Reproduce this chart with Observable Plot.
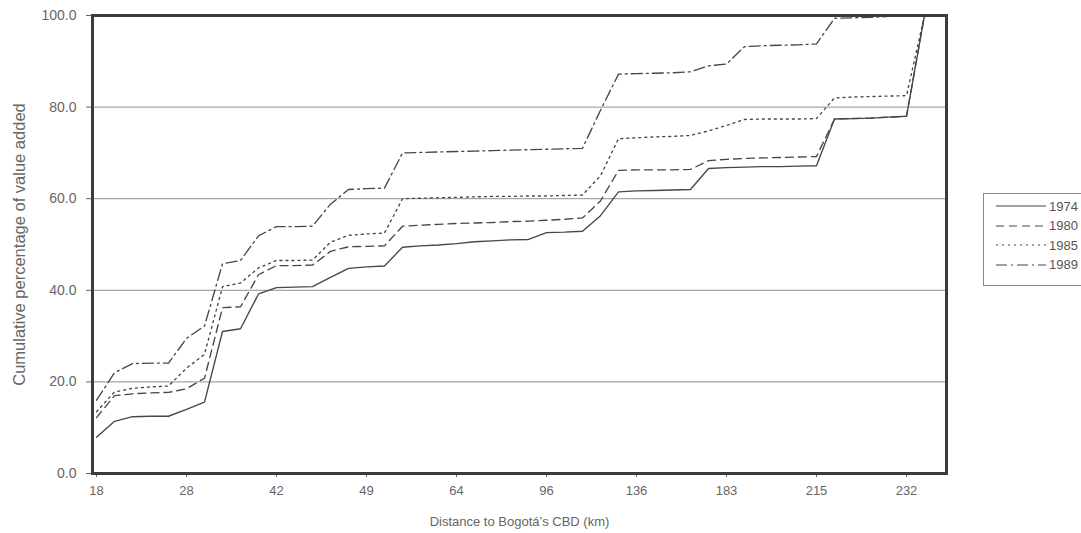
<!DOCTYPE html>
<html>
<head>
<meta charset="utf-8">
<script src="https://cdn.jsdelivr.net/npm/d3@7"></script>
<script src="https://cdn.jsdelivr.net/npm/@observablehq/plot@0.6"></script>
<style>
  html, body { margin: 0; padding: 0; background: #fff; overflow: hidden; }
  #wrap { position: relative; width: 1081px; height: 533px; font-family: "Liberation Sans", Arial, sans-serif; }
  #legend { position: absolute; left: 983px; top: 193px; width: 120px; height: 93px;
            border: 1px solid #888; box-sizing: border-box; background: #fff; }
  #legend .row { position: absolute; left: 11px; height: 16px; display: flex; align-items: center;
                 font-size: 13px; color: #555; }
  #legend svg { display: block; margin-right: 2px; }
</style>
</head>
<body>
<div id="wrap">
  <div id="chart"></div>
  <div id="legend"></div>
</div>
<script>
// Municipalities ordered by distance to the CBD; every fifth one carries a distance label.
const municipalityCount = 48;
const labelledIndex = [0, 5, 10, 15, 20, 25, 30, 35, 40, 45];
const distanceLabels = [18, 28, 42, 49, 64, 96, 136, 183, 215, 232];

const years = ["1974", "1980", "1985", "1989"];

// Cumulative percentage of value added, one value per municipality.
const cum1974 = [7.9, 11.4, 12.4, 12.5, 12.5, 14.0, 15.6, 31.0, 31.6, 39.2,
                 40.6, 40.7, 40.8, 42.8, 44.8, 45.1, 45.3, 49.4, 49.7, 49.9,
                 50.2, 50.6, 50.8, 51.0, 51.1, 52.6, 52.7, 52.9, 56.3, 61.5,
                 61.7, 61.8, 61.9, 62.0, 66.6, 66.8, 66.9, 67.0, 67.0, 67.1,
                 67.2, 77.4, 77.5, 77.6, 77.8, 78.0, 100, 100];
const cum1980 = [12.2, 17.0, 17.4, 17.6, 17.7, 18.5, 20.8, 36.2, 36.4, 43.4,
                 45.4, 45.4, 45.5, 48.5, 49.5, 49.6, 49.7, 54.0, 54.2, 54.4,
                 54.6, 54.7, 54.8, 55.0, 55.1, 55.3, 55.5, 55.8, 59.5, 66.2,
                 66.3, 66.3, 66.3, 66.4, 68.3, 68.6, 68.8, 68.9, 69.0, 69.1,
                 69.2, 77.4, 77.5, 77.6, 77.8, 78.0, 100, 100];
const cum1985 = [13.5, 17.8, 18.6, 18.9, 19.1, 23.0, 26.0, 40.8, 41.6, 44.9,
                 46.5, 46.5, 46.6, 50.5, 52.0, 52.3, 52.5, 60.0, 60.1, 60.2,
                 60.3, 60.4, 60.5, 60.5, 60.6, 60.6, 60.7, 60.8, 65.0, 73.1,
                 73.3, 73.5, 73.6, 73.8, 74.8, 76.0, 77.3, 77.4, 77.4, 77.4,
                 77.5, 82.0, 82.2, 82.3, 82.4, 82.5, 100, 100];
const cum1989 = [16.0, 22.0, 24.0, 24.1, 24.1, 29.5, 32.2, 45.8, 46.5, 51.9,
                 53.9, 53.9, 54.0, 58.8, 62.0, 62.2, 62.3, 70.0, 70.1, 70.2,
                 70.3, 70.4, 70.5, 70.6, 70.7, 70.8, 70.9, 71.0, 79.3, 87.2,
                 87.3, 87.4, 87.5, 87.7, 89.0, 89.4, 93.2, 93.4, 93.5, 93.6,
                 93.8, 99.4, 99.5, 99.6, 99.8, 100, 100, 100];

const seriesValues = [cum1974, cum1980, cum1985, cum1989];
const dashes = ["none", "8,5", "2,4", "11,4,2,4"];

const ink = "#474747";
const rowsFor = (vals, year) => vals.map((v, i) => ({ i, v, year }));

const lineMarks = years.map((year, k) =>
  Plot.line(rowsFor(seriesValues[k], year), {
    x: "i", y: "v",
    stroke: ink, strokeWidth: 1.35,
    strokeDasharray: dashes[k],
    strokeLinejoin: "round"
  })
);

const chart = Plot.plot({
  width: 1081,
  height: 533,
  marginLeft: 92,
  marginRight: 135,
  marginTop: 15,
  marginBottom: 60,
  style: { fontFamily: "Liberation Sans, Arial, sans-serif", fontSize: "13px", color: "#666", background: "#fff" },
  x: { type: "point", domain: d3.range(municipalityCount), padding: 0 },
  y: { domain: [0, 100] },
  marks: [
    Plot.gridY([20, 40, 60, 80], { stroke: "#909090", strokeOpacity: 1, strokeWidth: 1 }),
    Plot.axisY({
      ticks: [0, 20, 40, 60, 80, 100],
      tickFormat: d => d.toFixed(1),
      tickSize: 6, tickPadding: 10,
      fontSize: 14,
      label: null
    }),
    // rotated y-axis title, centred on the plot height
    Plot.text(["Cumulative percentage of value added"], {
      frameAnchor: "left", rotate: -90, dx: -73,
      fontSize: 16.5, fill: "#666", textAnchor: "middle"
    }),
    Plot.axisX({
      ticks: labelledIndex,
      tickFormat: i => distanceLabels[labelledIndex.indexOf(i)],
      tickSize: 4, tickPadding: 8,
      fontSize: 13,
      label: "Distance to Bogotá\u2019s CBD (km)",
      labelAnchor: "center", labelArrow: "none", labelOffset: 52
    }),
    ...lineMarks,
    Plot.frame({ stroke: "#3c3c3c", strokeWidth: 3 })
  ]
});
document.getElementById("chart").appendChild(chart);

// Legend: one sample line per year, drawn with the same dash pattern.
const legend = document.getElementById("legend");
years.forEach((year, k) => {
  const row = document.createElement("div");
  row.className = "row";
  row.style.top = (4 + k * 19.5) + "px";
  row.innerHTML =
    `<svg width="52" height="10"><line x1="1" x2="51" y1="5" y2="5" stroke="${ink}" stroke-width="1.2"` +
    (dashes[k] === "none" ? "" : ` stroke-dasharray="${dashes[k]}"`) + `/></svg>${year}`;
  legend.appendChild(row);
});
</script>
</body>
</html>
